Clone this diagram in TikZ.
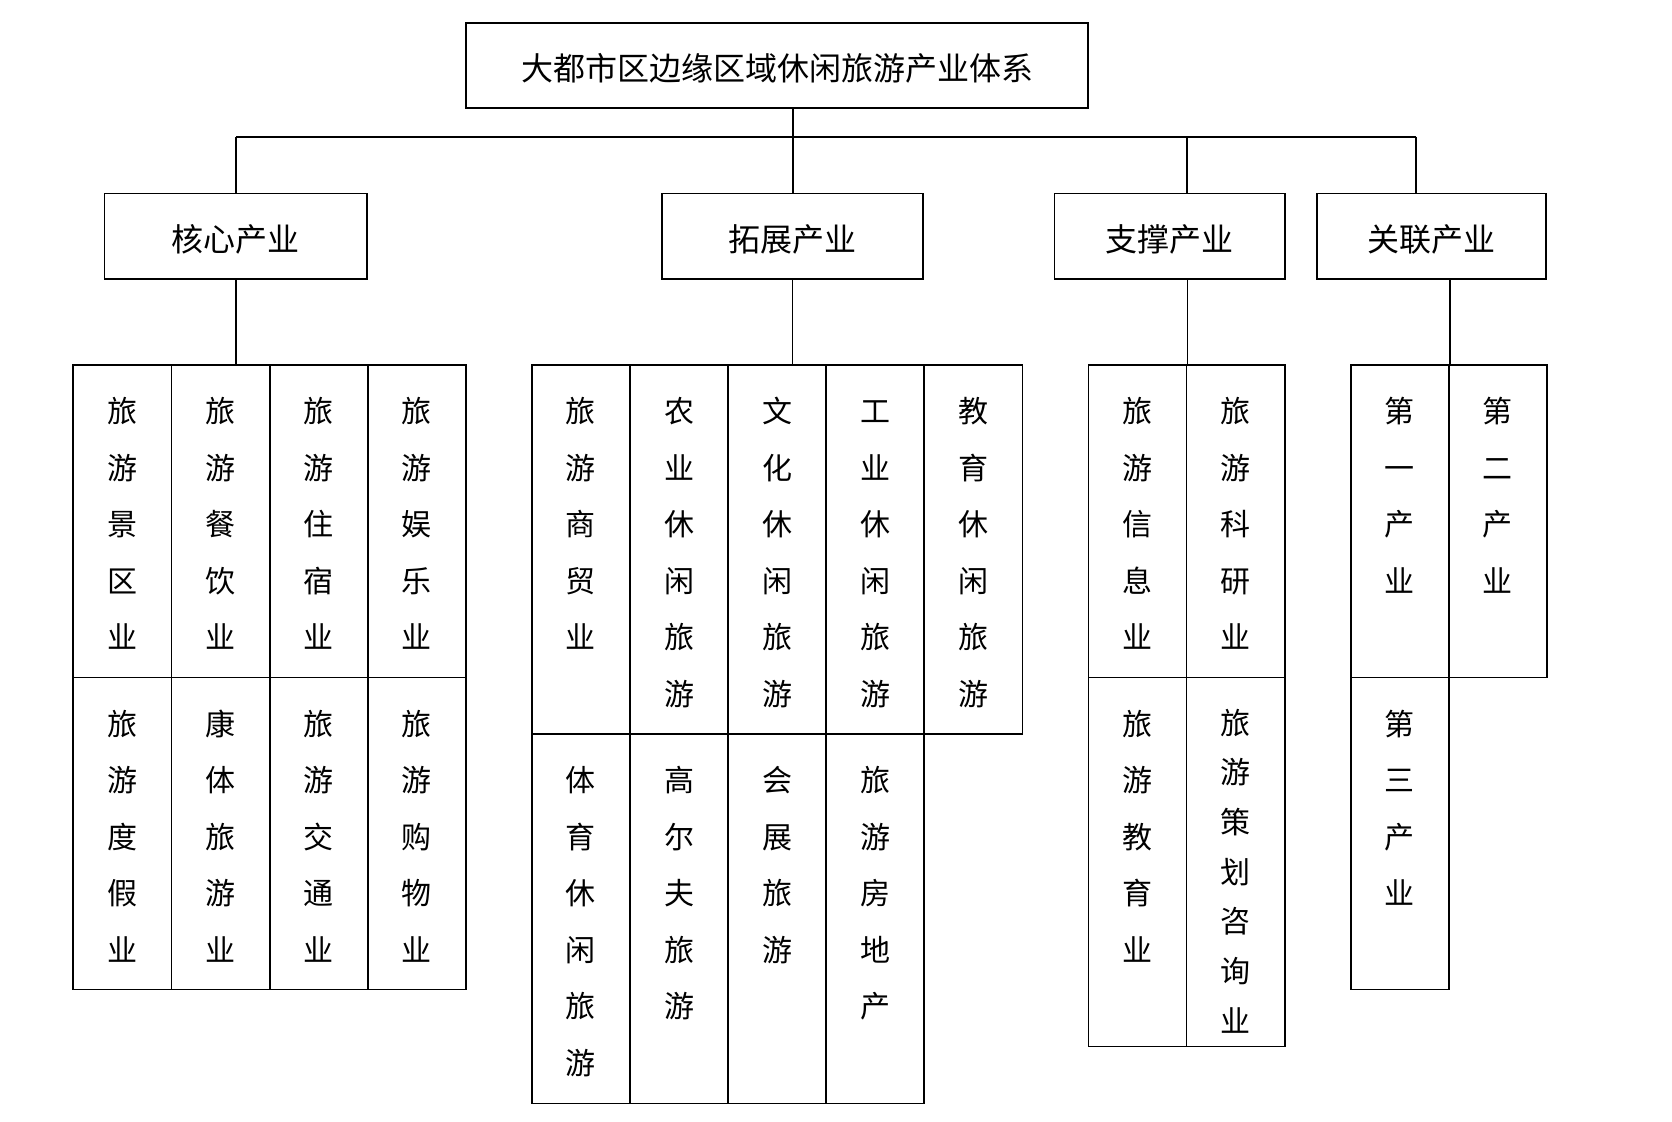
\documentclass[tikz,border=0pt]{standalone}
\usepackage{fontspec}
\newfontfamily\cjk{Noto Sans CJK SC}
\tikzset{
  box/.style={draw, line width=1.7pt, inner sep=0pt, text height=32pt, text depth=1.6pt, font=\cjk\fontsize{32}{38}\selectfont},
  cellbox/.style={draw, line width=1.7pt, anchor=north west, inner sep=0pt},
  vt/.style={anchor=north, inner sep=0pt, font=\cjk\fontsize{30}{56.6}\selectfont},
  vtsmall/.style={anchor=north, inner sep=0pt, font=\cjk\fontsize{30}{49.7}\selectfont},
  conn/.style={line width=1.7pt}
}
\newcommand\vcol[1]{\begin{tabular}{@{}c@{}}#1\end{tabular}}
\newcommand\mycell[6]{%
  \node[cellbox, minimum width={#4-#2}, minimum height={#5-#3}] (#1) at (#2,#3) {};
  \node[vt] (#1t) at ([yshift=-18.6pt]#1.north) {\vcol{#6}};
}
\begin{document}
\begin{tikzpicture}[x=1pt,y=-1pt]
\useasboundingbox (0,0) rectangle (1672,1121);
% top
\node[box, minimum width=622, minimum height=85] (top) at (777,65.8) {大都市区边缘区域休闲旅游产业体系};
% level 2
\node[box, minimum width=262.5, minimum height=85.5] (core) at (235.7,236.2) {核心产业};
\node[box, minimum width=261, minimum height=85.5] (expand) at (792.5,236.2) {拓展产业};
\node[box, minimum width=230.5, minimum height=85.5] (support) at (1169.7,236.2) {支撑产业};
\node[box, minimum width=229, minimum height=85.5] (related) at (1431.5,236.2) {关联产业};
% core cells
\mycell{c1}{72.3}{364}{170.7}{676.7}{旅\\游\\景\\区\\业}
\mycell{c2}{170.7}{364}{268.8}{676.7}{旅\\游\\餐\\饮\\业}
\mycell{c3}{268.8}{364}{366.9}{676.7}{旅\\游\\住\\宿\\业}
\mycell{c4}{366.9}{364}{465}{676.7}{旅\\游\\娱\\乐\\业}
\mycell{c5}{72.3}{676.7}{170.7}{988.5}{旅\\游\\度\\假\\业}
\mycell{c6}{170.7}{676.7}{268.8}{988.5}{康\\体\\旅\\游\\业}
\mycell{c7}{268.8}{676.7}{366.9}{988.5}{旅\\游\\交\\通\\业}
\mycell{c8}{366.9}{676.7}{465}{988.5}{旅\\游\\购\\物\\业}
% expand cells
\mycell{e1}{531}{364}{629.1}{733}{旅\\游\\商\\贸\\业}
\mycell{e2}{629.1}{364}{727.2}{733}{农\\业\\休\\闲\\旅\\游}
\mycell{e3}{727.2}{364}{825.3}{733}{文\\化\\休\\闲\\旅\\游}
\mycell{e4}{825.3}{364}{923.4}{733}{工\\业\\休\\闲\\旅\\游}
\mycell{e5}{923.4}{364}{1021.5}{733}{教\\育\\休\\闲\\旅\\游}
\mycell{e6}{531}{733}{629.1}{1102.5}{体\\育\\休\\闲\\旅\\游}
\mycell{e7}{629.1}{733}{727.2}{1102.5}{高\\尔\\夫\\旅\\游}
\mycell{e8}{727.2}{733}{825.3}{1102.5}{会\\展\\旅\\游}
\mycell{e9}{825.3}{733}{923.4}{1102.5}{旅\\游\\房\\地\\产}
% support cells
\mycell{s1}{1087.6}{364}{1185.7}{676.7}{旅\\游\\信\\息\\业}
\mycell{s2}{1185.7}{364}{1283.8}{676.7}{旅\\游\\科\\研\\业}
\mycell{s3}{1087.6}{676.7}{1185.7}{1045.5}{旅\\游\\教\\育\\业}
\node[cellbox, minimum width={1283.8-1185.7}, minimum height={1045.5-676.7}] (s4) at (1185.7,676.7) {};
\node[vtsmall] (s4t) at ([yshift=-22.3pt]s4.north) {\vcol{旅\\游\\策\\划\\咨\\询\\业}};
% related cells
\mycell{r1}{1350}{364}{1448}{676.7}{第\\一\\产\\业}
\mycell{r2}{1448}{364}{1546}{676.7}{第\\二\\产\\业}
\mycell{r3}{1350}{676.7}{1448}{988.5}{第\\三\\产\\业}
% connectors
\coordinate (tx) at (793,0);
\coordinate (sx) at (1186.7,0);
\coordinate (busL) at (236,136.7);
\coordinate (busR) at (1415.7,136.7);
\draw[conn] (top.south -| tx) -- (tx |- busL);
\draw[conn] (busL) -- (busR);
\draw[conn] (busL) -- (busL |- core.north);
\draw[conn] (tx |- busL) -- (tx |- expand.north);
\draw[conn] (sx |- busL) -- (sx |- support.north);
\draw[conn] (busR) -- (busR |- related.north);
\draw[conn] (core.south) -- (core.south |- c1.north);
\draw[conn] (expand.south) -- (expand.south |- e1.north);
\draw[conn] (s1.north east |- support.south) -- (s1.north east);
\draw[conn] (r1.north east |- related.south) -- (r1.north east);
\end{tikzpicture}
\end{document}
